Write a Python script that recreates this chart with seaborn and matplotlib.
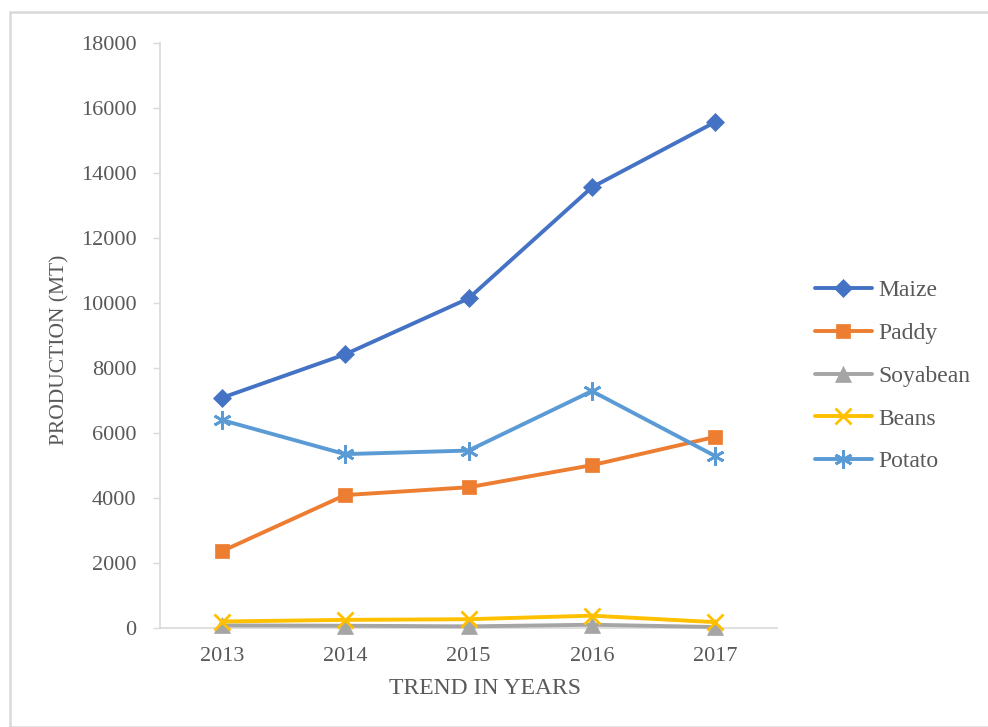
import matplotlib
matplotlib.use("Agg")
import matplotlib.pyplot as plt
import seaborn as sns
import pandas as pd
from matplotlib.patches import Rectangle

years = ["2013", "2014", "2015", "2016", "2017"]
maize = [7080, 8420, 10140, 13560, 15570]
paddy = [2360, 4090, 4330, 5010, 5880]
soyabean = [80, 70, 50, 100, 30]
beans = [200, 250, 270, 380, 180]
potato = [6400, 5350, 5460, 7290, 5290]

series = ["Maize", "Paddy", "Soyabean", "Beans", "Potato"]
values = [maize, paddy, soyabean, beans, potato]
colors = ["#4472C4", "#ED7D31", "#A5A5A5", "#FFC000", "#5B9BD5"]
markers = ["D", "s", "^", "x", (6, 2, 0)]
msizes = [9, 10, 12, 11.5, 13]

rows = []
for s, v in zip(series, values):
    for y, val in zip(years, v):
        rows.append({"Year": y, "Production": val, "Crop": s})
df = pd.DataFrame(rows)

sns.set_style("white")
plt.rcParams["font.family"] = ["Liberation Serif", "DejaVu Serif"]

fig = plt.figure(figsize=(9.88, 7.27), dpi=100)
ax = fig.add_axes([160 / 988, 1 - 628 / 727, (777 - 160) / 988, (628 - 43) / 727])

for i, (s, c, m, ms) in enumerate(zip(series, colors, markers, msizes)):
    sub = df[df["Crop"] == s]
    sns.lineplot(data=sub, x="Year", y="Production", ax=ax, color=c, marker=m,
                 markersize=ms, linewidth=2.8, label=s, zorder=3 + i * 0.1,
                 markeredgecolor=c, markerfacecolor=c, clip_on=False,
                 markeredgewidth=2 if s in ("Beans", "Potato") else 0.5)

ax.set_xlim(-0.5, 4.5)
ax.set_ylim(0, 18000)
ax.set_yticks(range(0, 18001, 2000))
text_col = "#595959"
ax.tick_params(axis="y", length=5, width=1, color="#d9d9d9", labelsize=16,
               labelcolor=text_col, pad=12, left=True)
ax.tick_params(axis="x", length=0, labelsize=16, labelcolor=text_col, pad=14)
for sp in ["top", "right"]:
    ax.spines[sp].set_visible(False)
for sp in ["left", "bottom"]:
    ax.spines[sp].set_color("#d9d9d9")
    ax.spines[sp].set_linewidth(1.2)
ax.set_xlabel("")
ax.set_ylabel("")
fig.text(485 / 988, 1 - 688 / 727, "TREND IN YEARS", fontsize=17, color=text_col,
         ha="center", va="center")
fig.text(60 / 988, 1 - 350 / 727, "PRODUCTION (MT)", fontsize=15.5, color=text_col,
         ha="center", va="center", rotation=90)

leg = ax.legend(loc="center left", bbox_to_anchor=(815 / 988, 1 - 376 / 727),
                bbox_transform=fig.transFigure, frameon=False, fontsize=17,
                handlelength=2.4, handletextpad=0.3, labelspacing=0.9,
                borderpad=0, borderaxespad=0)
for t in leg.get_texts():
    t.set_color(text_col)

fig.patches.append(Rectangle((10 / 988, 0), 1.0, 1 - 12 / 727, transform=fig.transFigure,
                             fill=False, edgecolor="#d9d9d9", linewidth=1.8, zorder=0))

fig.savefig("out.png", dpi=100)
